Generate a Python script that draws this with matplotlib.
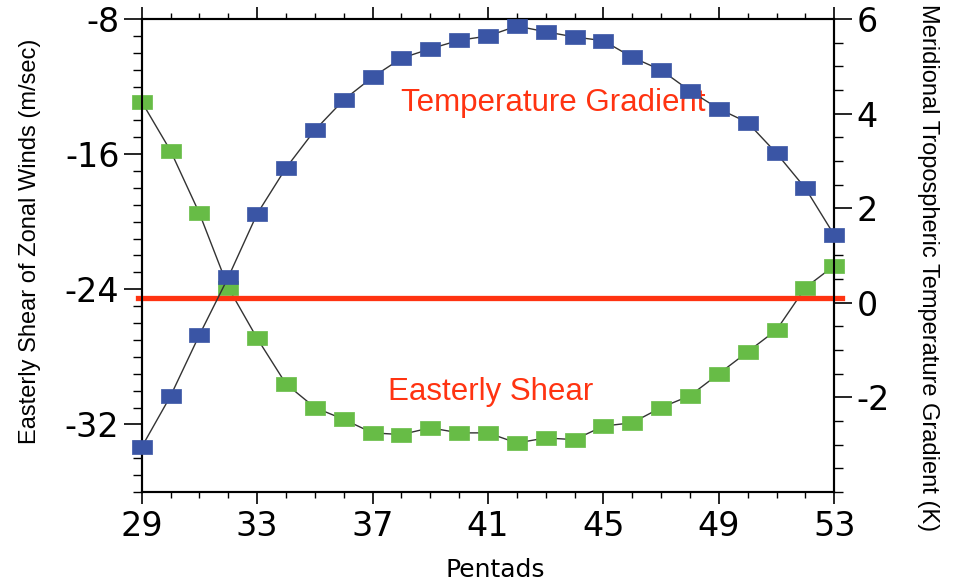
import numpy as np
import matplotlib
matplotlib.use('Agg')
import matplotlib.pyplot as plt
from matplotlib.ticker import MultipleLocator, FixedLocator

# Pentads (x axis)
pentads = [29, 30, 31, 32, 33, 34, 35, 36, 37, 38, 39, 40, 41,
           42, 43, 44, 45, 46, 47, 48, 49, 50, 51, 52, 53]

# Easterly shear of zonal winds (m/sec), left axis
shear = [-12.9, -15.8, -19.5, -23.9, -26.9, -29.6, -31.0, -31.7, -32.5,
         -32.6, -32.2, -32.5, -32.5, -33.1, -32.8, -32.9, -32.1, -31.9,
         -31.0, -30.3, -29.0, -27.7, -26.4, -23.9, -22.6]

# Meridional tropospheric temperature gradient (K), right axis
temp_grad = [-3.05, -1.97, -0.68, 0.54, 1.88, 2.85, 3.65, 4.29, 4.77,
             5.17, 5.37, 5.55, 5.64, 5.85, 5.73, 5.62, 5.54, 5.19,
             4.92, 4.48, 4.10, 3.81, 3.16, 2.42, 1.43]

# tick values
x_ticks = [29, 33, 37, 41, 45, 49, 53]
left_ticks = [-32, -24, -16, -8]
right_ticks = [-2, 0, 2, 4, 6]

# reference level of the red horizontal line (left axis units)
ref_level = -24.5

plt.rcParams['axes.unicode_minus'] = False
plt.rcParams['font.family'] = 'DejaVu Sans'

blue = '#3A55A5'
green = '#67BC46'
red = '#FF3311'

# wide rectangular marker
rect = [(-1.5, -1), (1.5, -1), (1.5, 1), (-1.5, 1), (-1.5, -1)]

fig = plt.figure(figsize=(9.56, 5.86), dpi=100)
ax = fig.add_axes([0.1482, 0.1604, 0.7245, 0.8072])
ax2 = ax.twinx()

# Easterly shear (green)
ax.plot(pentads, shear, color='#333333', lw=1.0, marker=rect, ms=15,
        mfc=green, mec=green, mew=0.5, zorder=3, clip_on=False)
ax.axhline(ref_level, xmin=-0.006, xmax=1.011, color=red, lw=3.8,
           clip_on=False, zorder=5)

# Temperature gradient (blue)
ax2.plot(pentads, temp_grad, color='#333333', lw=1.0, marker=rect, ms=15,
         mfc=blue, mec=blue, mew=0.5, zorder=3, clip_on=False)

# Axes limits and ticks
ax.set_xlim(29, 53)
ax.set_ylim(-36, -8)
ax2.set_ylim(-4, 6)

ax.xaxis.set_major_locator(FixedLocator(x_ticks))
ax.xaxis.set_minor_locator(MultipleLocator(1))
ax.yaxis.set_major_locator(FixedLocator(left_ticks))
ax.yaxis.set_minor_locator(MultipleLocator(1))
ax2.yaxis.set_major_locator(FixedLocator(right_ticks))
ax2.yaxis.set_minor_locator(MultipleLocator(0.5))

ax.tick_params(axis='x', which='major', direction='out', top=True,
               length=8.6, width=1.2, labelsize=24, pad=4)
ax.tick_params(axis='x', which='minor', direction='out', top=True,
               length=4.3, width=1.0)
ax.tick_params(axis='y', which='major', direction='out',
               length=13, width=1.2, labelsize=24, pad=3)
ax.tick_params(axis='y', which='minor', direction='out',
               length=6.5, width=1.0)
ax2.tick_params(axis='y', which='major', direction='out',
                length=13, width=1.2, labelsize=24, pad=3)
ax2.tick_params(axis='y', which='minor', direction='out',
                length=6.5, width=1.0)

for a in (ax, ax2):
    for s in a.spines.values():
        s.set_linewidth(1.5)

# Axis labels
ax.text(-0.161, 0.53, 'Easterly Shear of Zonal Winds (m/sec)',
        transform=ax.transAxes, rotation=90, ha='center', va='center',
        fontsize=17, family='Liberation Sans')
ax.text(1.135, 0.474, 'Meridional Tropospheric Temperature Gradient (K)',
        transform=ax.transAxes, rotation=-90, ha='center', va='center',
        fontsize=17, family='Liberation Sans')
ax.text(0.51, -0.165, 'Pentads', transform=ax.transAxes,
        ha='center', va='center', fontsize=18)

# Curve annotations
ax.text(0.594, 0.822, 'Temperature Gradient', transform=ax.transAxes,
        ha='center', va='center', fontsize=22.5, color=red,
        family='Liberation Sans', zorder=6)
ax.text(0.504, 0.211, 'Easterly Shear', transform=ax.transAxes,
        ha='center', va='center', fontsize=22.5, color=red,
        family='Liberation Sans', zorder=6)

fig.savefig('out.png', dpi=100)
